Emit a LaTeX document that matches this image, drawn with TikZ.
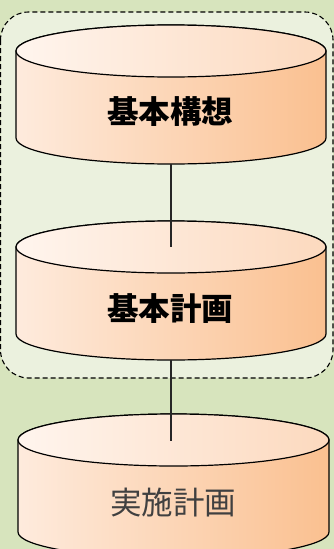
\documentclass[tikz,border=0pt]{standalone}
\usepackage{fontspec}
\newfontfamily\cjk{Noto Sans CJK JP}
\definecolor{bgout}{HTML}{D7E4BD}
\definecolor{bgin}{HTML}{EBF1DE}
\definecolor{sideL}{HTML}{FEEBDD}
\definecolor{sideR}{HTML}{FAC090}
\definecolor{topL}{HTML}{FFF5EE}
\definecolor{topR}{HTML}{FCD9BE}
\definecolor{txtgray}{HTML}{404040}
\tikzset{
  cylside/.style={left color=sideL,right color=sideR,draw=black,line width=1.2pt},
  cyltop/.style={left color=topL,right color=topR,draw=black,line width=1.2pt},
  conn/.style={draw=black!85,line width=1.3pt},
  boldlabel/.style={font=\cjk\bfseries\fontsize{31.5}{32}\selectfont,text=black},
  plainlabel/.style={font=\cjk\fontsize{31.5}{32}\selectfont,text=txtgray},
}
\newcommand{\mycyl}[5]{% cx, rx, ty, by, ry
  \path[cylside] (#1-#2,#3) -- (#1-#2,#4) arc[start angle=180,end angle=0,x radius=#2,y radius=#5]
     -- (#1+#2,#3) arc[start angle=0,end angle=-180,x radius=#2,y radius=#5] -- cycle;
  \path[cyltop] (#1,#3) ellipse[x radius=#2,y radius=#5];
}
\begin{document}
\begin{tikzpicture}[x=1pt,y=-1pt]
\fill[bgout] (0,0) rectangle (334,549);
\useasboundingbox (0,0) rectangle (334,549);
\draw[dashed,dash pattern=on 5pt off 3pt,fill=bgin,line width=1.1pt,rounded corners=28pt] (0.5,12) rectangle (333,378);
\mycyl{171}{155}{51}{138}{26}
\mycyl{171}{155}{247}{334}{26}
\mycyl{173.5}{155.5}{440}{532}{26}
\coordinate (c1bot) at (171,164);
\coordinate (c2top) at (171,247);
\coordinate (c2bot) at (171,360);
\coordinate (c3top) at (171,441);
\node[boldlabel] (t1) at (170,112) {基本構想};
\node[boldlabel] (t2) at (170,309) {基本計画};
\node[plainlabel] (t3) at (173,503) {実施計画};
\draw[conn] (c1bot) -- (c2top);
\draw[conn] (c2bot) -- (c3top);
\end{tikzpicture}
\end{document}
